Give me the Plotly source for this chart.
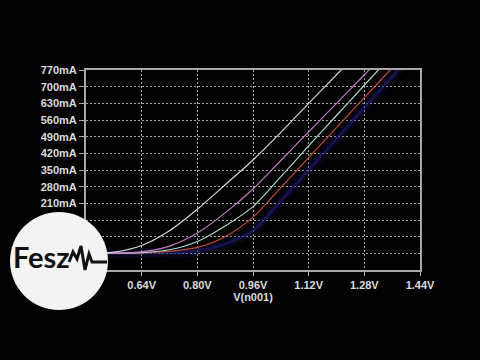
import plotly.graph_objects as go

# ---- data ----
voltage = [0.48, 0.56, 0.64, 0.72, 0.80, 0.88, 0.96, 1.04, 1.12, 1.20, 1.28, 1.36, 1.44]
i_white = [0.5, 5, 33, 95, 185, 288, 392, 508, 630, 750, 870, 990, 1110]
i_magenta = [0, 1, 6, 30, 85, 170, 270, 390, 510, 630, 750, 870, 990]
i_cyan = [0, 0.5, 3, 15, 50, 115, 196, 322, 451, 579, 706, 834, 960]
i_red = [0, 0, 2, 8, 25, 70, 152, 276, 402, 528, 654, 779, 905]
i_blue = [0, 0, 1, 3, 10, 40, 95, 220, 350, 481, 611, 742, 872]

x_tick_vals = [0.48, 0.64, 0.80, 0.96, 1.12, 1.28, 1.44]
x_tick_text = ["", "0.64V", "0.80V", "0.96V", "1.12V", "1.28V", "1.44V"]
y_tick_vals = [-70, 0, 70, 140, 210, 280, 350, 420, 490, 560, 630, 700, 770]
# the lowest labels are hidden behind the logo in the reference
y_tick_text = ["", "", "", "", "210mA", "280mA", "350mA",
               "420mA", "490mA", "560mA", "630mA", "700mA", "770mA"]

fig = go.Figure()

def add(y, color, width, opacity=1.0):
    fig.add_trace(go.Scatter(x=voltage, y=y, mode="lines",
                             line=dict(color=color, width=width, shape="spline", smoothing=0.8),
                             opacity=opacity, hoverinfo="skip", showlegend=False))

# blue trace with a soft glow
add(i_blue, "#1c1c70", 10, 0.18)
add(i_blue, "#202080", 3, 0.55)
add(i_red, "#c04a34", 1.2)
add(i_cyan, "#a8d4cc", 1.2)
add(i_magenta, "#c47cc4", 1.2)
add(i_white, "#d6d6d6", 1.2)

axis_common = dict(
    showgrid=True, gridcolor="#a8a8a8", griddash="2px,2px", gridwidth=1,
    showline=True, linecolor="#a8a8a8", linewidth=2, mirror=True,
    ticks="outside", tickcolor="#a8a8a8", tickwidth=1,
    zeroline=False,
    tickfont=dict(family="Liberation Sans, Arial", size=11, color="#dcdcdc", weight="bold"),
)

fig.update_xaxes(range=[0.48, 1.44], tickvals=x_tick_vals, ticktext=x_tick_text,
                 ticklen=4, title=dict(text="V(n001)", standoff=2,
                 font=dict(family="Liberation Sans, Arial", size=11, color="#dcdcdc", weight="bold")),
                 **axis_common)
fig.update_yaxes(range=[-70, 770], tickvals=y_tick_vals, ticktext=y_tick_text,
                 ticklen=5, **axis_common)

# ---- Fesz logo (decoration) ----
L, R, T, B = 86, 420, 70, 270
def px(x):
    return (x - L) / (R - L)
def py(y):
    return (B - y) / (B - T)

fig.add_shape(type="circle", xref="paper", yref="paper", layer="above",
              x0=px(10), x1=px(108), y0=py(310), y1=py(212),
              fillcolor="#f3f3f3", line=dict(width=0))
wave = [(69, 262), (73, 252), (77, 259), (81, 246), (85, 270), (89, 254), (92, 262), (107, 262)]
path = "M " + " L ".join(f"{px(a):.4f},{py(b):.4f}" for a, b in wave)
fig.add_shape(type="path", xref="paper", yref="paper", layer="above", path=path,
              line=dict(color="#111111", width=3))
fig.add_annotation(xref="paper", yref="paper", x=px(41), y=py(256), text="<b>Fesz</b>",
                   showarrow=False, xanchor="center", yanchor="middle",
                   font=dict(family="Lato", size=29, color="#111111"))

fig.update_layout(
    width=480, height=360,
    margin=dict(l=L, r=480 - R, t=T, b=360 - B),
    paper_bgcolor="black", plot_bgcolor="black",
    showlegend=False,
)

fig.write_html("out.html", config={"displayModeBar": False},
               post_script="document.body.style.margin='0';document.body.style.background='black';")
